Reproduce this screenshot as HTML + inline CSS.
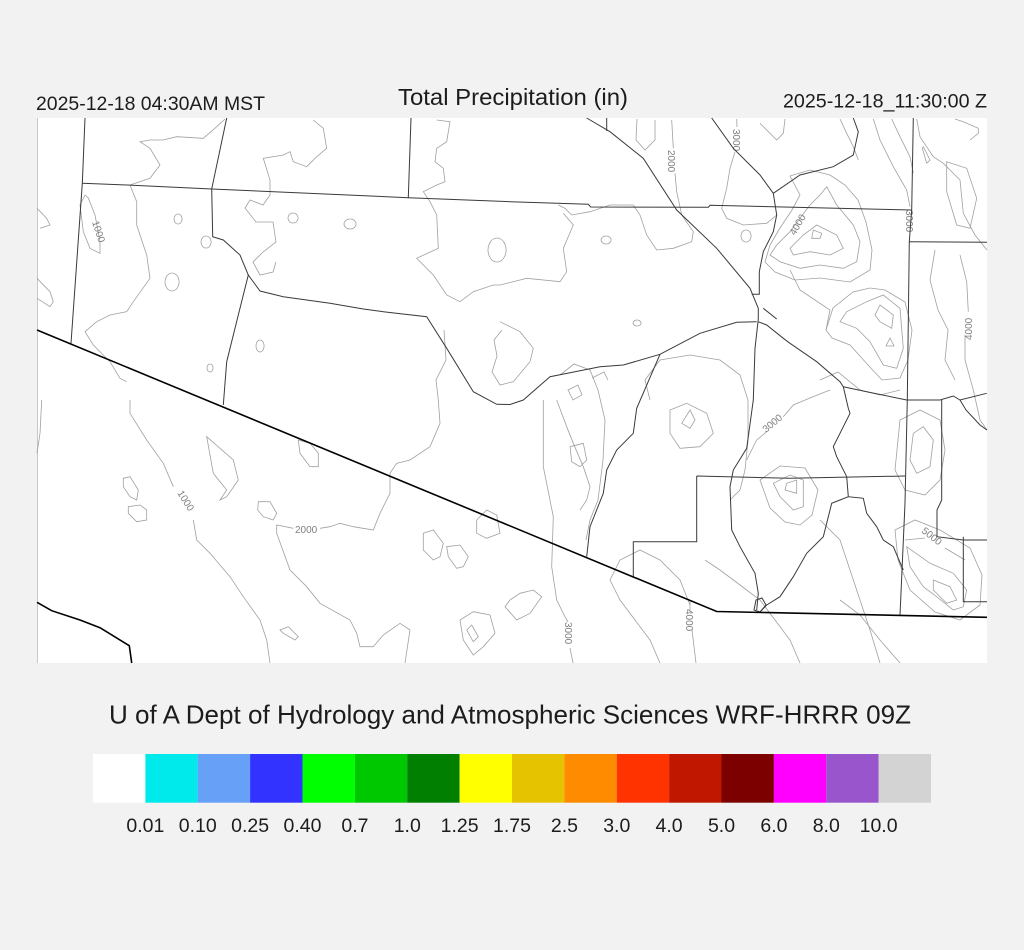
<!DOCTYPE html>
<html><head><meta charset="utf-8"><style>
html,body{margin:0;padding:0;background:#f2f2f2;}
svg{display:block;}
text{font-family:"Liberation Sans",Arial,sans-serif;fill:#1c1c1c;}
.b{fill:none;stroke:#3a3a3a;stroke-width:1;}
.k{fill:none;stroke:#000;stroke-width:1.6;}
.c{fill:none;stroke:#a0a0a0;stroke-width:0.8;}
.cl{font-size:10px;fill:#808080;}
</style></head><body>
<svg width="1024" height="950" viewBox="0 0 1024 950" xmlns="http://www.w3.org/2000/svg">
<rect x="0" y="0" width="1024" height="950" fill="#f2f2f2"/>
<text x="36" y="110" font-size="19.5" textLength="229" lengthAdjust="spacingAndGlyphs">2025-12-18 04:30AM MST</text>
<text x="398" y="105" font-size="23.5" textLength="230" lengthAdjust="spacingAndGlyphs">Total Precipitation (in)</text>
<text x="783" y="107.5" font-size="19.5" textLength="204" lengthAdjust="spacingAndGlyphs">2025-12-18_11:30:00 Z</text>

<!-- map -->
<rect x="38" y="118" width="949" height="545" fill="#ffffff"/>
<line x1="37.5" y1="118" x2="37.5" y2="663" stroke="#c8c8c8" stroke-width="1"/>
<g>
<!-- contours -->
<path class="c" d="M225,119 L216.7,126.7 203.3,138.3 176.7,136.7 163,140 150,140 140,141.7 150,148.3 160,165 150,178.3 130,185 136.7,201.7 136.7,225 146.7,255 150,278.3 133.3,301.7 126.7,311.7 110,315 96.7,321.7 85,331.7 93.3,345 110,361.7 120,378.3 126.7,381.7"/>
<path class="c" d="M85,195 L80,205 83.3,231.7 90,248.3 100,253.3 100,241.7 95,215 88.3,198 Z"/>
<path class="c" d="M313.3,120 L323.3,128.3 326.7,148.3 316.7,156.7 306.7,166.7 293.3,161.7 290,151.7 283.3,155 263.3,158.3 270,180 270,195 263,205 250,200 245,208 256,222 273,222 276,242 263,252 253,262 260,275 273,272 276,262"/>
<path class="c" d="M436.7,120 L450,121.7 446.7,141.7 436.7,148.3 435,161.7 443.3,168.3 445,181.7 436.7,185 423.3,191.7 430,201.7 436.7,215 438.3,248.3 416.7,258.3 433.3,275 446.7,295 460,301.7 473.3,291.7 493.3,285 500,285 526.7,278.3 560,281.7 566.7,271.7 563.3,248.3 573.3,225 563.3,213.3"/>
<path class="c" d="M37,208.3 L46.7,218.3 50,225 40,228.3 M37,278.3 L50,291.7 53.3,301.7 50,306.7 37,298.3 M41.7,400 L40,433.3 37,453.3"/>
<path class="c" d="M130,400 L130,413.3 146.7,440 163.3,463.3 173.3,486.7 M193.3,520 L196.7,540 210,553.3 230,576.7 243.3,596.7 260,620 266.7,640 270,663"/>
<path class="c" d="M293.3,528.3 L276.7,525 276.7,533.3 290,570 306.7,586.7 320,603.3 350,620 356.7,633.3 360,646.7 373.3,646.7 383.3,635 400,623.3 410,630 405,663 M320,528.3 L330,526.7 340,523.3 353.3,526.7 373.3,530 380,513.3 390,493.3 390,473.3 396.7,463.3 410,460 430,446.7 440,423.3 438.3,400 436,380 446,360 444,330"/>
<path class="c" d="M206.7,436.7 L233.3,460 238.3,480 226.7,496.7 220,500 226.7,490 213.3,473.3 Z"/>
<path class="c" d="M123.3,478.3 L130,476.7 138.3,490 136.7,500 130,496.7 123.3,486.7 Z M128.3,506.7 L140,505 146.7,510 146.7,520 136.7,521.7 128.3,513.3 Z"/>
<path class="c" d="M258.3,501.7 L270,501.7 276.7,513.3 273.3,520 263.3,516.7 257.7,510 Z M298.3,440 L310,443.3 318.3,453.3 318.3,466.7 310,466.7 300,453.3 Z"/>
<path class="c" d="M423.3,533.3 L433.3,530 443.3,543.3 440,556.7 433.3,560 423.3,550 Z M446.7,546.7 L460,545 468.3,556.7 463.3,566.7 456.7,568.3 448.3,556.7 Z M476.7,520 L486.7,510 496.7,515 500,533.3 486.7,538.3 476.7,533.3 Z"/>
<path class="c" d="M460,620 L473.3,611.7 490,615 495,633.3 483.3,646.7 473.3,655 463.3,640 Z M466.7,630 L471.7,625 478.3,636.7 473.3,641.7 Z M280,630 L288.3,626.7 298.3,636.7 295,640 283.3,633.3 Z"/>
<path class="c" d="M510,600 L520,593.3 533.3,590 541.7,596.7 530,613.3 516.7,620 505,606.7 Z"/>
<path class="c" d="M178,214 A4,5 0 1,0 178.1,214 M206,236 A5,6 0 1,0 206.1,236 M172,273 A7,9 0 1,0 172.1,273 M260,340 A4,6 0 1,0 260.1,340 M293,213 A5,5 0 1,0 293.1,213 M350,219 A6,5 0 1,0 350.1,219 M497,238 A9,12 0 1,0 497.1,238 M606,236 A5,4 0 1,0 606.1,236 M637,320 A4,3 0 1,0 637.1,320 M210,364 A3,4 0 1,0 210.1,364"/>
<path class="c" d="M500,321.7 L520,331.7 533.3,348.3 530,361.7 513.3,381.7 500,385 492,372 497,356 494,340 502,330"/>
<path class="c" d="M671.7,120 L673.3,148.3 M675,173.3 L676.7,191.7 681.7,215 693.3,231.7 691.7,241.7 673.3,248.3 656.7,250 646.7,235 640,215 633.3,205 610,205 590,211.7 571.7,215 565,208.3 558.3,205"/>
<path class="c" d="M637,119 L636,140 645,150 655,140 655,120"/>
<path class="c" d="M736.7,119 L737,127 M735,151.7 L730,168.3 726.7,188.3 721.7,208.3 726.7,218.3 743.3,225 766.7,223.3 776.7,215 M746,230 A5,6 0 1,0 746.1,230"/>
<path class="c" d="M760,123.3 L776.7,140 783.3,133.3 785,119 M840,119 L846.7,133.3 853.3,146.7 858.3,160 M873.3,119 L880,140 893.3,166.7 906.7,190 910,206.7 M891.7,119 L900,136.7 910,156.7 913.3,173.3 M916.7,119 L920,136.7 933.3,156.7 943.3,163.3 960,180 963.3,213.3 975,235 987,250 M955,119 L963.3,121.7 978.3,128.3 978.3,133.3 970,140 M923.3,146.7 L930,160 926.7,163.3 922.3,148.3 Z"/>
<path class="c" d="M946.7,161.7 L966.7,168.3 976.7,198.3 970,228.3 956.7,225 946.7,191.7 Z"/>
<path class="c" d="M790,176 L810,170 830,175 845,185 858,200 866,222 872,250 870,270 850,282 820,278 795,280 775,272 765,262 770,245 780,228 792,210 800,195 Z"/>
<path class="c" d="M826.7,186.7 L836.7,205 853.3,225 860,241.7 856.7,261.7 843.3,268.3 820,265 800,268.3 780,261.7 770,255 776.7,245 790,231.7 800,218.3 810,205 820,195 Z"/>
<path class="c" d="M816.7,225 L836.7,235 843.3,248.3 830,255 810,251.7 793.3,255 790,248.3 803.3,235 Z M813.3,230 L821.7,233.3 820,238.3 811.7,238.3 Z"/>
<path class="c" d="M883.3,295 L900,308.3 903.3,348.3 896.7,368.3 883.3,365 870,341.7 856.7,328.3 840,321.7 846.7,311.7 866.7,301.7 Z M880,305 L893.3,315 891.7,328.3 880,321.7 875,315 Z M890,338 L894,346 886,346 Z"/>
<path class="c" d="M826,330 L833,308 853,292 870,288 885,290 905,302 912,330 908,360 900,378 882,380 868,365 850,345 832,338 Z"/>
<path class="c" d="M790,270 L800,290 815,300 830,310 826,330 M820,380 L838,372 860,390 880,395 900,390"/>
<path class="c" d="M960,255 L966.7,281.7 968.3,311.7 M965,335 L965,360 973.3,390 980,420 987,430 M935,250 L930,280 938,310 948,330 945,360 955,380"/>
<path class="c" d="M543.3,400 L543.3,466.7 553.3,516.7 551.7,566.7 556.7,600 565,616.7 568,622 M570,648 L573,663"/>
<path class="c" d="M556.7,400 L566.7,426.7 573.3,443.3 583.3,466.7 590,486.7 586.7,500 580,510 M570,446.7 L583.3,443.3 586.7,460 580,466.7 571.7,461.7 Z"/>
<path class="c" d="M560,375 L574,364 590,370 598,390 605,420 603,460 598,500 590,520 586,540 M568,390 L578,385 582,395 573,400 Z M592,378 L604,372 608,380"/>
<path class="c" d="M650,400 L645,380 660,360 690,355 720,360 740,375 748,400 748,440 745,470 740,490 730,500 M670,410 L686.7,403.3 706.7,413.3 713.3,433.3 700,446.7 680,448.3 670,433.3 Z M681.7,423.3 L690,410 695,420 690,428.3 Z"/>
<path class="c" d="M746.7,460 L756.7,440 766.7,431.7 M783.3,416.7 L793.3,405 810,398 830,390"/>
<path class="c" d="M913.3,433.3 L923.3,426.7 933.3,440 930,466.7 916.7,473.3 910,460 Z M900,420 L920,410 940,420 945,450 940,480 925,495 905,490 895,470 Z"/>
<path class="c" d="M773.3,483.3 L790,475 803.3,480 803.3,506.7 793.3,510 780,496.7 Z M786.7,483.3 L796.7,480 796.7,493.3 785,490 Z M760,480 L780,466 805,468 818,490 812,515 800,525 785,522 770,508 Z"/>
<path class="c" d="M906.7,546.7 L930,563.3 953.3,573.3 966.7,590 963.3,606.7 953.3,610 936.7,596.7 923.3,586.7 910,566.7 Z M933.3,580 L950,586.7 956.7,600 946.7,603.3 933.3,590 Z M895,530 L915,520 940,530 970,548 982,575 980,605 960,620 935,612 910,590 898,560 Z"/>
<path class="c" d="M905,540 L925,538 M945,548 L965,560"/>
<path class="c" d="M690,605 L680,580 660,560 640,550 620,560 610,580 620,600 635,620 650,640 660,663 M705,560 L720,570 740,585 760,600 775,620 790,640 800,663 M820,520 L840,540 850,570 860,600 870,630 880,663 M840,600 L860,615 880,640 900,663"/>
<path class="c" d="M690,612 L690,600 M692,630 L696,663"/>
</g>
<!-- contour labels -->
<g class="cl">
<text class="cl" transform="translate(92,222) rotate(72)">1000</text>
<text class="cl" transform="translate(177,493) rotate(58)">1000</text>
<text class="cl" x="295" y="533">2000</text>
<text class="cl" transform="translate(668,150) rotate(90)">2000</text>
<text class="cl" transform="translate(733,129) rotate(90)">3000</text>
<text class="cl" transform="translate(795,236) rotate(-60)">4000</text>
<text class="cl" transform="translate(906,210) rotate(90)">3000</text>
<text class="cl" transform="translate(972,340) rotate(-90)">4000</text>
<text class="cl" transform="translate(766,433) rotate(-40)">3000</text>
<text class="cl" transform="translate(921,532) rotate(38)">5000</text>
<text class="cl" transform="translate(686,609) rotate(90)">4000</text>
<text class="cl" transform="translate(565,622) rotate(90)">3000</text>
</g>
<!-- boundaries -->
<g>
<path class="b" d="M85,118 L82.3,183.3 71,343.3"/>
<path class="b" d="M82.3,183.3 L126.7,185 211.7,189 408.3,197.7 510,201.7 588.3,204.3 590.7,207 708.3,207.3 710,205.3 911.7,210"/>
<path class="b" d="M411,118 L408.3,197.7"/>
<path class="b" d="M226.7,118 L211.7,189 212.7,236.7 223.3,240 240,255 248.3,275 238.3,315 226.7,361.7 223.3,405"/>
<path class="b" d="M248.3,275 L260,291 283.3,296.7 330,303.3 363.3,309 383.3,311.7 426.7,316.7 446.7,348.3 473.3,391.7 496.7,404.3 510,404.5 523.3,400 550,376.7 600,366.7 623.3,365 660,354.3 700,333.3 736.7,322.3 756.7,321.7"/>
<path class="b" d="M586.7,118 L610,131.7 643.3,158.3 676.7,210 716.7,248.3 750,288.3 758.3,308.3 758.3,318.3 758,321.7"/>
<path class="b" d="M606.7,118 L606.7,131"/>
<path class="b" d="M711.7,118 L733.3,148.3 760,175 773.3,193.3 776.7,215 773.3,231.7 763.3,251.7 759.3,271.7 759.3,294.3 751.7,294.3"/>
<path class="b" d="M773.3,193.3 L800,175 833.3,166.7 853.3,155 858.3,131.7 853.3,118"/>
<path class="b" d="M763.3,308.3 L776.7,319"/>
<path class="b" d="M758,321.7 L755,348.3 753.3,400 746.7,448.3 733.3,470 730,486.7 731.7,530 740,546.7 755,573.3 758.3,593.3 756.7,610"/>
<path class="b" d="M758,321.7 L766.7,325 783.3,338.3 790,343.3 816.7,361.7 840,381.7 843.3,386.7 848.3,408.3 850,413.3 840,433.3 833.3,446.7 836.7,456.7 846.7,476.7 848.3,496.7 863.3,498.3 866.7,513.3 876.7,526.7 883.3,540 893.3,546.7 903.3,570"/>
<path class="b" d="M848.3,496.7 L840,500 831.7,503.3 823.3,536.7 806.7,553.3 793.3,576.7 780,596.7 766.7,605 760,612"/>
<path class="b" d="M843.3,386.7 L866.7,391.7 906.7,400 940,400 953.3,396 960,400 986.7,393.3"/>
<path class="b" d="M913.3,118 L911.7,210 909.3,241.7 907.3,400 905,503.3 900,615"/>
<path class="b" d="M909.3,241.7 L987,242.3"/>
<path class="b" d="M941.7,400 L941.7,500 937,510 937,536.7 963.3,540 987,540 M963.3,536.7 L963.3,601.7 987,601.7"/>
<path class="b" d="M960,400 L966,410 980,425 987,430"/>
<path class="b" d="M696.7,476 L790,478.3 905,476 M696.7,476 L696.7,541.7 633.3,541.7 633.3,576.7"/>
<path class="b" d="M660,354.3 L636.7,408.3 633.3,433.3 616.7,450 606.7,470 603.3,493.3 590,526.7 586.7,556.7"/>
<path class="b" d="M756,600 L762,598 766,605 760,612 754,610 Z"/>
<path class="k" d="M37,330 L716.7,611.5 987,617.3"/>
<path class="k" d="M37,602.3 L51.7,610.7 80,620 100,627.7 129.3,645.7 131.7,663"/>
</g>

<text x="109" y="723.5" font-size="26" textLength="802" lengthAdjust="spacingAndGlyphs">U of A Dept of Hydrology and Atmospheric Sciences WRF-HRRR 09Z</text>

<!-- colorbar -->
<g>
<rect x="93" y="754" width="52.4" height="48.7" fill="#ffffff"/>
<rect x="145.4" y="754" width="52.4" height="48.7" fill="#00eaeb"/>
<rect x="197.75" y="754" width="52.4" height="48.7" fill="#67a1f7"/>
<rect x="250.1" y="754" width="52.4" height="48.7" fill="#3333ff"/>
<rect x="302.5" y="754" width="52.4" height="48.7" fill="#00ff00"/>
<rect x="354.9" y="754" width="52.4" height="48.7" fill="#00c800"/>
<rect x="407.25" y="754" width="52.4" height="48.7" fill="#007f00"/>
<rect x="459.6" y="754" width="52.4" height="48.7" fill="#ffff00"/>
<rect x="512" y="754" width="52.4" height="48.7" fill="#e6c300"/>
<rect x="564.4" y="754" width="52.4" height="48.7" fill="#ff8c00"/>
<rect x="616.75" y="754" width="52.4" height="48.7" fill="#ff3300"/>
<rect x="669.1" y="754" width="52.4" height="48.7" fill="#c01800"/>
<rect x="721.5" y="754" width="52.4" height="48.7" fill="#7d0000"/>
<rect x="773.9" y="754" width="52.4" height="48.7" fill="#ff00ff"/>
<rect x="826.25" y="754" width="52.4" height="48.7" fill="#9955cc"/>
<rect x="878.6" y="754" width="52.4" height="48.7" fill="#d3d3d3"/>
</g>
<g font-size="19.5" text-anchor="middle">
<text x="145.4" y="832">0.01</text>
<text x="197.75" y="832">0.10</text>
<text x="250.1" y="832">0.25</text>
<text x="302.5" y="832">0.40</text>
<text x="354.9" y="832">0.7</text>
<text x="407.25" y="832">1.0</text>
<text x="459.6" y="832">1.25</text>
<text x="512" y="832">1.75</text>
<text x="564.4" y="832">2.5</text>
<text x="616.75" y="832">3.0</text>
<text x="669.1" y="832">4.0</text>
<text x="721.5" y="832">5.0</text>
<text x="773.9" y="832">6.0</text>
<text x="826.25" y="832">8.0</text>
<text x="878.6" y="832">10.0</text>
</g>
</svg>
</body></html>
